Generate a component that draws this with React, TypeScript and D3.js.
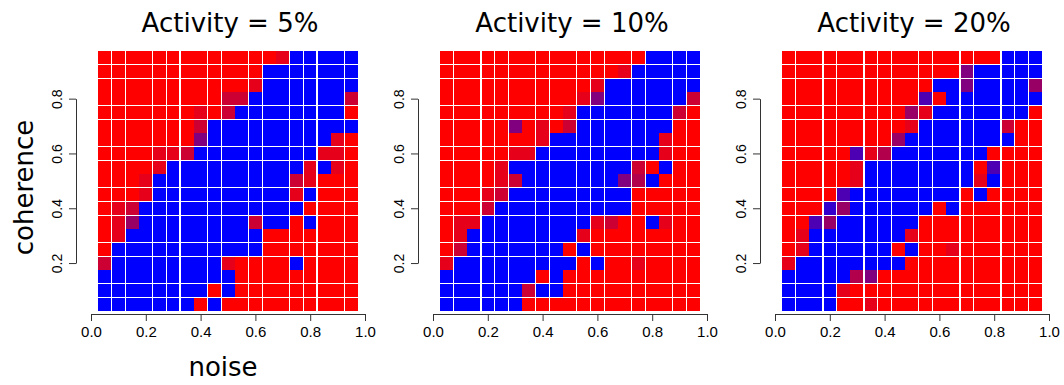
import React, { useEffect, useRef } from 'react'
import * as d3 from 'd3'

// grid centres (19 x 19 cells)
const noiseLevels = [0.05, 0.1, 0.15, 0.2, 0.25, 0.3, 0.35, 0.4, 0.45, 0.5, 0.55, 0.6, 0.65, 0.7, 0.75, 0.8, 0.85, 0.9, 0.95]
// top row first
const coherenceLevels = [0.95, 0.9, 0.85, 0.8, 0.75, 0.7, 0.65, 0.6, 0.55, 0.5, 0.45, 0.4, 0.35, 0.3, 0.25, 0.2, 0.15, 0.1, 0.05]

const titles = ['Activity = 5%', 'Activity = 10%', 'Activity = 20%']

// share of "blue" outcome per cell: R = 0, B = 1, digit = tenths
const act5 = [
    'RRRRRRRRRRRRR1BBBBB',
    'RRRRRRRRRRRRBBBBBBB',
    'RRRRRRRRRRR1BBBBBBB',
    'RRRRRRRRR22BBBBBBB2',
    'RRRRRRR1R2BBBBBBBBR',
    'RRRRRRR2BBBBBBBBBBB',
    'RRRRRRR5BBBBBBBBB1R',
    'RRRR112BBBBBBBBB11R',
    'RRRR1BBBBBBBBBB1B1R',
    'RRR1BBBBBBBBBB21RRR',
    'RRR1BBBBBBBBBB1BRRR',
    'R12BBBBBBBBBBBBRRRR',
    'R14BBBBBBBB2BBRBRRR',
    'R1BBBBBBBBBBRRRRRRR',
    'RBBBBBBBBBBBRRRRRRR',
    '2BBBBBBBB1RRRRBRRRR',
    'BBBBBBBBBBRRRRRRRRR',
    'BBBBBBBBRBRRRRRRRRR',
    'BBBBBBBRBRRRRRRRRRR',
]

const act10 = [
    'RRRRRRRRRRRRRRRBBBB',
    'RRRRRRRRRRRRR1BBBBB',
    'RRRRRRRRRRR1BBBBBBB',
    'RRRRRRRRRR15BBBBBB2',
    'RRRRRRRRR1BBBBBBB2R',
    'RRRRR5R1R2BBBBBBBRR',
    'RRRRRRR1BBBBBBBB1RR',
    'RRRRR11BBBBBBBBB1RR',
    'RRRR1BBBBBBBBB2RBRR',
    'RRRR12BBBBBBB53BRRR',
    'RRR12BBBBBBBBBRRRRR',
    'RRR2BBBBBBBBBBRRRRR',
    'R11BBBBBBBB12RRB1RR',
    'R1BBBBBBBB1RRRRRRRR',
    'R2BBBBBBBRBRRRRRRRR',
    '1BBBBBBBBBRBRR1RRRR',
    'BBBBBBBRBRRRRRRRRRR',
    'BBBBBB2BBRRRRRRRRRR',
    'BBBBBBRRRRRRRRRRRRR',
]

const act20 = [
    'RRRRRRRRRRRRRRRRBBB',
    'RRRRRRRRRRRRR5BBBBB',
    'RRRRRRRRRRRBB5BBBB4',
    'RRRRRRRRRR7RBBBBBBB',
    'RRRRRRRRR41BBBBBBBR',
    'RRRRRRRRR1BBBBBB2RR',
    'RRRRRRRR4BBBBBBBBRR',
    'RRRRR713BBBBBBBRRRR',
    'RRRRR1BBBBBBBBR7RRR',
    'RRRRR1BBBBBBBB1BRRR',
    'RRRR7BBBBBBBBRBRRRR',
    'RRR84BBBBBBRBRRRRRR',
    'RR74BBBBBBRRRRRRRRR',
    'R1BBBBBBB1RRRRRRRRR',
    'R1BBBBBBRBRR1RRRRRR',
    '1BBBBBBBBRRRRRRRRRR',
    'BBBBB35RRRRRRRRRRRR',
    'BBBB1RRRRRRRRRRRRRR',
    'BBBBRR1RRRRRRRRRRRR',
]

const panels = [act5, act10, act20]

const xTicks = [0, 0.2, 0.4, 0.6, 0.8, 1.0]
const yTicks = [0.2, 0.4, 0.6, 0.8]

// white separators that got lost in the original raster (boundary index)
const missingColLines = [
    [3, 7, 10, 13, 17],
    [2, 6, 9, 13, 16],
    [2, 5, 9, 12, 15],
]
const missingRowLines = [3, 6, 9, 13, 16]

const share = (ch: string) => (ch === 'R' ? 0 : ch === 'B' ? 1 : +ch / 10)
const cellColor = (p: number) => d3.rgb(255 * (1 - p), 0, 255 * p).formatHex()

const App: React.FC = () => {
    const svgRef = useRef<SVGSVGElement | null>(null)

    useEffect(() => {
        if (!svgRef.current) return
        const width = 1064
        const height = 385
        const half = 0.025
        const panelW = 274
        const panelGap = 342
        const tickFont = "'Liberation Sans', Arial, sans-serif"
        const labelFont = "'DejaVu Sans', sans-serif"

        const svg = d3.select(svgRef.current).attr('width', width).attr('height', height)
        svg.selectAll('*').remove()

        const y = d3.scaleLinear().domain([0, 1]).range([317.85, 43.85])

        panels.forEach((rows, pi) => {
            const x0 = 91 + pi * panelGap
            const x = d3.scaleLinear().domain([0, 1]).range([x0, x0 + panelW])
            const g = svg.append('g')

            const cells = rows.flatMap((row, r) =>
                row.split('').map((ch, c) => ({
                    noise: noiseLevels[c],
                    coh: coherenceLevels[r],
                    p: share(ch),
                }))
            )

            g.selectAll('rect.cell')
                .data(cells)
                .join('rect')
                .attr('class', 'cell')
                .attr('x', (d) => x(d.noise - half))
                .attr('y', (d) => y(d.coh + half))
                .attr('width', x(2 * half) - x(0))
                .attr('height', y(0) - y(2 * half))
                .attr('fill', (d) => cellColor(d.p))
                .attr('shape-rendering', 'crispEdges')

            // white grid lines
            const top = y(coherenceLevels[0] + half)
            const bottom = y(coherenceLevels[18] - half)
            const left = x(noiseLevels[0] - half)
            const right = x(noiseLevels[18] + half)
            const vLines = d3.range(1, 19).filter((k) => !missingColLines[pi].includes(k))
            const hLines = d3.range(1, 19).filter((k) => !missingRowLines.includes(k))

            g.selectAll('line.v')
                .data(vLines)
                .join('line')
                .attr('class', 'v')
                .attr('x1', (k) => x(noiseLevels[k] - half))
                .attr('x2', (k) => x(noiseLevels[k] - half))
                .attr('y1', top)
                .attr('y2', bottom)
                .attr('stroke', '#fff')
                .attr('stroke-width', 1.2)
                .attr('shape-rendering', 'crispEdges')

            g.selectAll('line.h')
                .data(hLines)
                .join('line')
                .attr('class', 'h')
                .attr('x1', left)
                .attr('x2', right)
                .attr('y1', (k) => y(coherenceLevels[k] + half))
                .attr('y2', (k) => y(coherenceLevels[k] + half))
                .attr('stroke', '#fff')
                .attr('stroke-width', 1.2)
                .attr('shape-rendering', 'crispEdges')

            // x axis
            const gx = g
                .append('g')
                .attr('transform', 'translate(0,314)')
                .call(
                    d3
                        .axisBottom(x)
                        .tickValues(xTicks)
                        .tickFormat(d3.format('.1f'))
                        .tickSize(7)
                        .tickSizeOuter(0)
                )
            gx.selectAll('path, line').attr('stroke', '#333')
            gx.selectAll('text')
                .attr('y', 22.5)
                .attr('dy', null)
                .attr('fill', '#000')
                .attr('font-family', tickFont)
                .attr('font-size', 15)

            // y axis: R draws it only across the tick range
            const yAxisScale = d3.scaleLinear().domain([0.2, 0.8]).range([y(0.2), y(0.8)])
            const gy = g
                .append('g')
                .attr('transform', `translate(${x0 - 15},0)`)
                .call(
                    d3
                        .axisLeft(yAxisScale)
                        .tickValues(yTicks)
                        .tickFormat(d3.format('.1f'))
                        .tickSize(7)
                        .tickSizeOuter(0)
                )
            gy.selectAll('path, line').attr('stroke', '#333')
            gy.selectAll('text')
                .attr('transform', 'rotate(-90)')
                .attr('x', 0)
                .attr('y', -14)
                .attr('dy', null)
                .attr('text-anchor', 'middle')
                .attr('fill', '#000')
                .attr('font-family', tickFont)
                .attr('font-size', 14)

            g.append('text')
                .attr('x', x(0.5) + 2)
                .attr('y', 31.7)
                .attr('text-anchor', 'middle')
                .attr('font-family', labelFont)
                .attr('font-size', 26)
                .text(titles[pi])
        })

        svg.append('text')
            .attr('transform', 'translate(33,187.5) rotate(-90)')
            .attr('text-anchor', 'middle')
            .attr('font-family', labelFont)
            .attr('font-size', 26)
            .text('coherence')

        svg.append('text')
            .attr('x', 223)
            .attr('y', 376)
            .attr('text-anchor', 'middle')
            .attr('font-family', labelFont)
            .attr('font-size', 26)
            .text('noise')
    }, [])

    return (
        <svg
            ref={svgRef}
            style={{ position: 'absolute', left: 0, top: 0, background: '#fff' }}
        ></svg>
    )
}

export default App
